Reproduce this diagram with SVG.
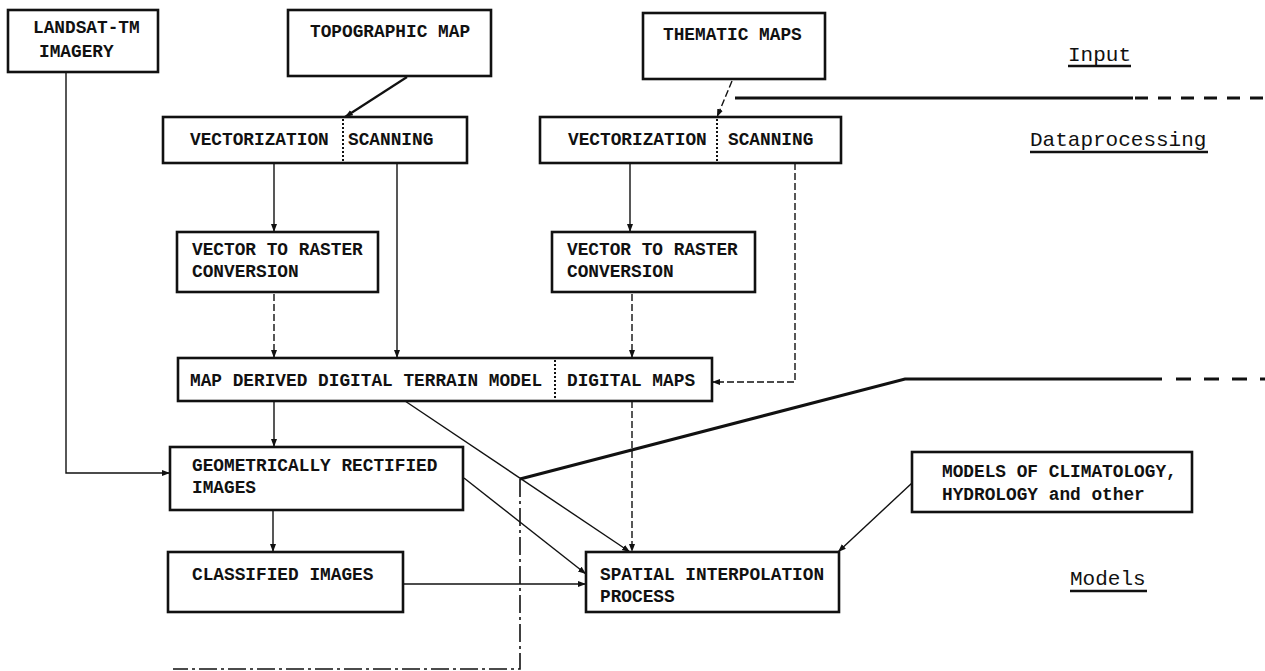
<svg xmlns="http://www.w3.org/2000/svg" width="1265" height="671" viewBox="0 0 1265 671">
<defs>
<marker id="arr" markerUnits="userSpaceOnUse" markerWidth="10" markerHeight="8" refX="8" refY="3" orient="auto">
<path d="M0,0 L8,3 L0,6 z" fill="#111"/>
</marker>
<style>
.box{fill:#fff;stroke:#111;stroke-width:2.6}
.div{stroke:#111;stroke-width:2;stroke-dasharray:2 2;fill:none}
.t{font-family:"Liberation Mono","DejaVu Sans Mono",monospace;font-weight:bold;font-size:17.8px;fill:#111}
.lbl{font-family:"Liberation Mono","DejaVu Sans Mono",monospace;font-size:21px;fill:#111}
.ul{stroke:#111;stroke-width:2.5}
.c{fill:none;stroke:#111;stroke-width:1.4;marker-end:url(#arr)}
.cd{fill:none;stroke:#111;stroke-width:1.4;stroke-dasharray:7 3;marker-end:url(#arr)}
.bnd{fill:none;stroke:#111;stroke-width:3}
</style>
</defs>
<rect width="1265" height="671" fill="#fff"/>

<g id="connectors">
<path class="c" d="M66,72 V473 H170"/>
<path class="c" style="stroke-width:2.2" d="M407,77 L345,117"/>
<path class="c" d="M274,163 V232"/>
<path class="c" d="M397,163 V358"/>
<path class="cd" d="M274,294 V358"/>
<path class="cd" d="M732,81 L717,117"/>
<path class="c" d="M630,163 V232"/>
<path class="cd" d="M795,163 V382 H712"/>
<path class="cd" d="M632,294 V358"/>
<path class="c" d="M274,401 V447"/>
<path class="c" d="M405,401 L630,552"/>
<path class="cd" d="M632,401 V552"/>
<path class="c" d="M273,510 V552"/>
<path class="c" d="M464,478 L586,574"/>
<path class="c" d="M403,584 H586"/>
<path class="c" d="M912,483 L838,552"/>
</g>

<g id="boundaries">
<path class="bnd" d="M735,98 H1133"/>
<path class="bnd" d="M1135,98 H1265" style="stroke-dasharray:13 10"/>
<path class="bnd" d="M1162,379 H905 L520,479"/>
<path class="bnd" d="M1176,379 H1265" style="stroke-dasharray:15 13"/>
<path fill="none" stroke="#111" stroke-width="1.6" stroke-dasharray="18 4 3 4" d="M520,479 V669 H173"/>
</g>

<g id="landsat">
<rect class="box" x="8" y="10" width="150" height="62"/>
<text class="t" x="33" y="33">LANDSAT-TM</text>
<text class="t" x="39" y="57">IMAGERY</text>
</g>

<g id="topographic">
<rect class="box" x="288" y="10" width="203" height="66"/>
<text class="t" x="310" y="37">TOPOGRAPHIC MAP</text>
</g>

<g id="thematic">
<rect class="box" x="643" y="13" width="182" height="66"/>
<text class="t" x="663" y="40">THEMATIC MAPS</text>
</g>

<g id="vec1">
<rect class="box" x="163" y="117" width="304" height="46"/>
<line class="div" x1="343" y1="119" x2="343" y2="161"/>
<text class="t" x="190" y="145">VECTORIZATION</text>
<text class="t" x="348" y="145">SCANNING</text>
</g>

<g id="vec2">
<rect class="box" x="540" y="117" width="301" height="46"/>
<line class="div" x1="717" y1="119" x2="717" y2="161"/>
<text class="t" x="568" y="145">VECTORIZATION</text>
<text class="t" x="728" y="145">SCANNING</text>
</g>

<g id="vr1">
<rect class="box" x="177" y="232" width="201" height="60"/>
<text class="t" x="192" y="255">VECTOR TO RASTER</text>
<text class="t" x="192" y="277">CONVERSION</text>
</g>

<g id="vr2">
<rect class="box" x="552" y="232" width="203" height="60"/>
<text class="t" x="567" y="255">VECTOR TO RASTER</text>
<text class="t" x="567" y="277">CONVERSION</text>
</g>

<g id="dtm">
<rect class="box" x="178" y="358" width="534" height="43"/>
<line class="div" x1="555" y1="360" x2="555" y2="399"/>
<text class="t" x="190" y="386">MAP DERIVED DIGITAL TERRAIN MODEL</text>
<text class="t" x="567" y="386">DIGITAL MAPS</text>
</g>

<g id="geom">
<rect class="box" x="170" y="447" width="293" height="63"/>
<text class="t" x="192" y="471">GEOMETRICALLY RECTIFIED</text>
<text class="t" x="192" y="493">IMAGES</text>
</g>

<g id="classified">
<rect class="box" x="168" y="552" width="235" height="60"/>
<text class="t" x="192" y="580">CLASSIFIED IMAGES</text>
</g>

<g id="spatial">
<rect class="box" x="586" y="552" width="253" height="60"/>
<text class="t" x="600" y="580">SPATIAL INTERPOLATION</text>
<text class="t" x="600" y="602">PROCESS</text>
</g>

<g id="models">
<rect class="box" x="912" y="452" width="280" height="60"/>
<text class="t" x="942" y="477">MODELS OF CLIMATOLOGY,</text>
<text class="t" x="942" y="500">HYDROLOGY and other</text>
</g>

<g id="labels">
<text class="lbl" x="1068" y="61">Input</text>
<line class="ul" x1="1068" y1="66" x2="1131" y2="66"/>
<text class="lbl" x="1030" y="146">Dataprocessing</text>
<line class="ul" x1="1030" y1="152" x2="1208" y2="152"/>
<text class="lbl" x="1070" y="585">Models</text>
<line class="ul" x1="1070" y1="591" x2="1147" y2="591"/>
</g>
</svg>
